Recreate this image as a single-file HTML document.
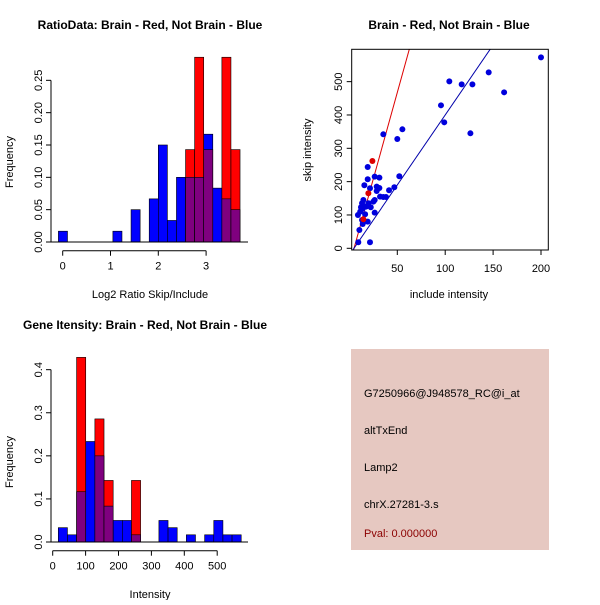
<!DOCTYPE html>
<html><head><meta charset="utf-8"><style>
body{margin:0;background:#fff}
svg text{font-family:"Liberation Sans",sans-serif;font-size:11px;fill:#000}
.t{font-weight:bold;font-size:12px}
</style></head><body>
<svg id="s" width="600" height="600" xmlns="http://www.w3.org/2000/svg">
<rect width="600" height="600" fill="#fff"/>
<text class="t" x="150" y="29" text-anchor="middle">RatioData: Brain - Red, Not Brain - Blue</text>
<text class="t" x="449" y="29" text-anchor="middle">Brain - Red, Not Brain - Blue</text>
<text class="t" x="145" y="329" text-anchor="middle">Gene Itensity: Brain - Red, Not Brain - Blue</text>
<text x="150" y="298" text-anchor="middle">Log2 Ratio Skip/Include</text>
<text x="13" y="162" text-anchor="middle" transform="rotate(-90 13 162)">Frequency</text>
<text x="449" y="298" text-anchor="middle">include intensity</text>
<text x="311" y="150" text-anchor="middle" transform="rotate(-90 311 150)">skip intensity</text>
<text x="150" y="598" text-anchor="middle">Intensity</text>
<text x="13" y="462" text-anchor="middle" transform="rotate(-90 13 462)">Frequency</text>
<g>
<rect x="351" y="349" width="198" height="201" fill="#E6C8C1"/>
<text x="364" y="397">G7250966@J948578_RC@i_at</text>
<text x="364" y="434">altTxEnd</text>
<text x="364" y="471">Lamp2</text>
<text x="364" y="508">chrX.27281-3.s</text>
<text x="364" y="537" style="fill:#8B0000">Pval: 0.000000</text>
</g>
</svg>
<script>
// Ratio histogram data
const ratioBinStart = -0.09, ratioBinWidth = 0.19;
const ratioBlue = [0.0167,0,0,0,0,0,0.0167,0,0.05,0,0.0667,0.15,0.0333,0.10,0.10,0.10,0.1667,0.0833,0.0667,0.05];
const ratioRed  = [0,0,0,0,0,0,0,0,0,0,0,0,0,0,0.1429,0.2857,0.1429,0,0.2857,0.1429];
const ratioXTicks = [0,1,2,3];
const ratioYTicks = ["0.00","0.05","0.10","0.15","0.20","0.25"];
// Intensity histogram data
const intBinStart = 17, intBinWidth = 27.8;
const intBlue = [0.0333,0.0167,0.1167,0.2333,0.20,0.0833,0.05,0.05,0.0167,0,0,0.05,0.0333,0,0.0167,0,0.0167,0.05,0.0167,0.0167];
const intRed  = [0,0,0.4286,0,0.2857,0.1429,0,0,0.1429,0,0,0,0,0,0,0,0,0,0,0];
const intXTicks = [0,100,200,300,400,500];
const intYTicks = ["0.0","0.1","0.2","0.3","0.4"];
// Scatter data
const blueX = [200,145.4,161.5,128.4,117.2,104.3,95.6,99,126.3,55.3,50,35.4,52.1,46.9,41.4,38.2,35.4,32,31.3,31.3,28.5,28.5,26.4,26.4,25,26.4,21.5,19.1,19.1,15.6,19.8,17.4,13.9,16.4,13.2,12.1,8.9,13.2,13.9,10.4,9.3,21.5,19.1,22.3,11.3,14.6];
const blueY = [573,528,468,492,492,501,429,378,345,357,328,342,216,183,174,154,154,155,181,212,185,172,215,145,140,107,180,207,244,189,135,125,119,102,135,123,100,85,73,55,18,18,80,123,110,145];
const redX = [24,19.8,14.6];
const redY = [262,165,87];
const scatXTicks = [50,100,150,200];
const scatYTicks = [0,100,200,300,400,500];
const redFit = [-50,10.35];
const blueFit = [-20,4.2];

const svg=document.getElementById('s');
const NS='http://www.w3.org/2000/svg';
function mk(tag,attrs,parent){const e=document.createElementNS(NS,tag);for(const k in attrs)e.setAttribute(k,attrs[k]);(parent||svg).appendChild(e);return e;}

function hist(blue,red,start,width,sx,sy,g){
  for(let i=0;i<blue.length;i++){
    const x0=sx(start+i*width),x1=sx(start+(i+1)*width);
    const b=blue[i],r=red[i],lo=Math.min(b,r),hi=Math.max(b,r);
    if(hi>0){
      const top=mk('rect',{x:x0,y:sy(hi),width:x1-x0,height:sy(0)-sy(hi),fill:b>=r?'#0000FF':'#FF0000',stroke:'#000','stroke-width':0.6},g);
      
      
    }
    if(lo>0){
      const p=mk('rect',{x:x0,y:sy(lo),width:x1-x0,height:sy(0)-sy(lo),fill:'#7F007F',stroke:'#000','stroke-width':0.6},g);
      
      
    }
  }
}
function yAxis(x,ticks,sy,vals,g){
  mk('line',{x1:x,x2:x,y1:sy(vals[0]),y2:sy(vals[vals.length-1]),stroke:'#000'},g);
  ticks.forEach((t,i)=>{const y=sy(vals[i]);mk('line',{x1:x-5,x2:x,y1:y,y2:y,stroke:'#000'},g);
    const tx=mk('text',{x:x-9,y:y,'text-anchor':'middle',transform:`rotate(-90 ${x-9} ${y})`},g);tx.textContent=t;});
}
function xAxis(y,ticks,sx,g){
  mk('line',{x1:sx(ticks[0]),x2:sx(ticks[ticks.length-1]),y1:y,y2:y,stroke:'#000'},g);
  ticks.forEach(t=>{const x=sx(t);mk('line',{x1:x,x2:x,y1:y,y2:y+5,stroke:'#000'},g);
    const tx=mk('text',{x:x,y:y+19,'text-anchor':'middle'},g);tx.textContent=t;});
}

// Ratio histogram
{
  const g=mk('g',{});
  
  
  const sx=v=>62.7+v*47.8, sy=v=>242-v*646.7;
  hist(ratioBlue,ratioRed,ratioBinStart,ratioBinWidth,sx,sy,g);
  mk('line',{x1:51,x2:248,y1:242,y2:242,stroke:'#000'},g);
  yAxis(51,ratioYTicks,sy,ratioYTicks.map(Number),g);
  xAxis(250.7,ratioXTicks,sx,g);
}
// Intensity histogram
{
  const g=mk('g',{});
  
  
  const sx=v=>52.7+v*0.329, sy=v=>542-v*430.8;
  hist(intBlue,intRed,intBinStart,intBinWidth,sx,sy,g);
  mk('line',{x1:51,x2:248,y1:542,y2:542,stroke:'#000'},g);
  yAxis(51,intYTicks,sy,intYTicks.map(Number),g);
  xAxis(550.7,intXTicks,sx,g);
}
// Scatter
{
  const g=mk('g',{});
  
  
  const sx=v=>349.4+v*0.958, sy=v=>248.3-v*0.3333;
  const cp=mk('clipPath',{id:'cp'},g);mk('rect',{x:351.7,y:49.3,width:196.6,height:200.7},cp);
  const f1=mk('line',{x1:sx(0),y1:sy(redFit[0]),x2:sx(210),y2:sy(redFit[0]+redFit[1]*210),stroke:'#DD0000','clip-path':'url(#cp)'},g);
  
  
  const f2=mk('line',{x1:sx(0),y1:sy(blueFit[0]),x2:sx(210),y2:sy(blueFit[0]+blueFit[1]*210),stroke:'#0000AA','clip-path':'url(#cp)'},g);
  
  
  blueX.forEach((x,i)=>{const c=mk('circle',{cx:sx(x),cy:sy(blueY[i]),r:3,fill:'#0000DD'},g);
    
    });
  redX.forEach((x,i)=>{const c=mk('circle',{cx:sx(x),cy:sy(redY[i]),r:3,fill:'#DD0000'},g);
    
    });
  mk('rect',{x:351.7,y:49.3,width:196.6,height:200.7,fill:'none',stroke:'#000'},g);
  scatXTicks.forEach(t=>{const x=sx(t);mk('line',{x1:x,x2:x,y1:250,y2:255,stroke:'#000'},g);
    const tx=mk('text',{x:x,y:272,'text-anchor':'middle'},g);tx.textContent=t;});
  scatYTicks.forEach(t=>{const y=sy(t);mk('line',{x1:346.7,x2:351.7,y1:y,y2:y,stroke:'#000'},g);
    const tx=mk('text',{x:342,y:y,'text-anchor':'middle',transform:`rotate(-90 342 ${y})`},g);tx.textContent=t;});
}
</script>
</body></html>
